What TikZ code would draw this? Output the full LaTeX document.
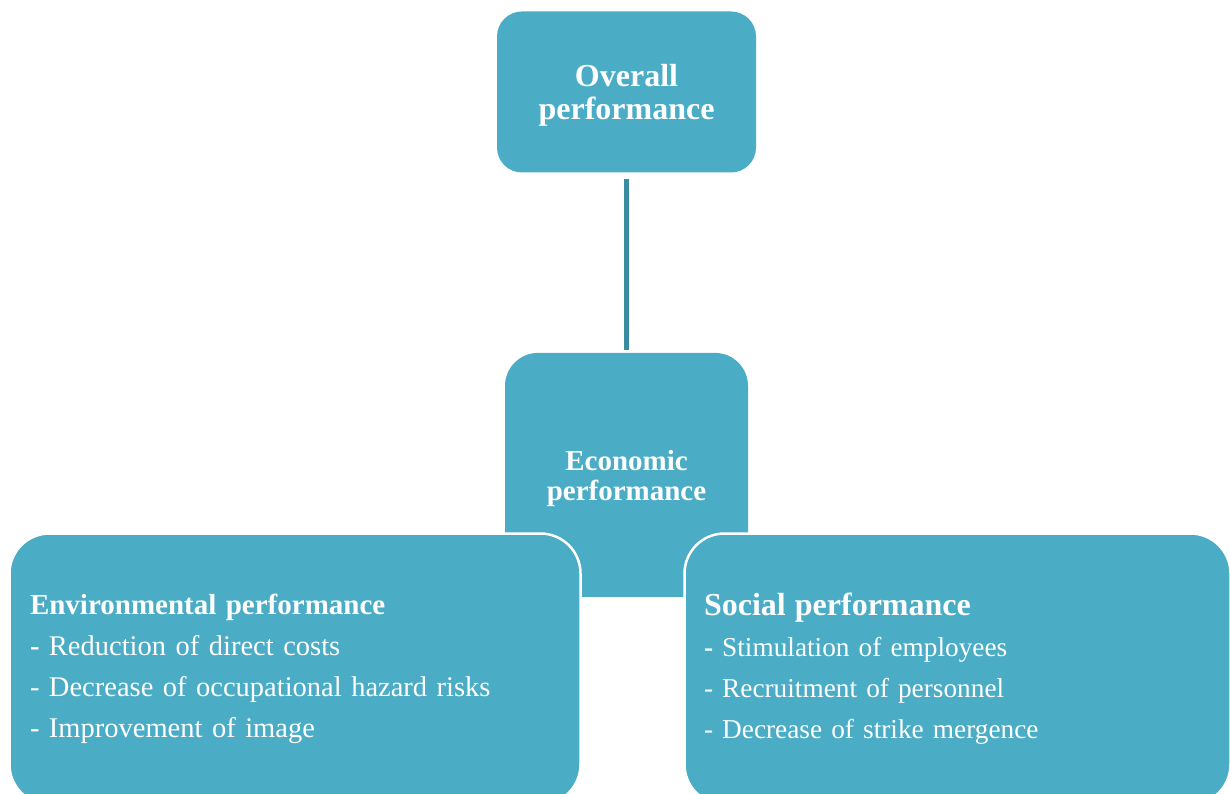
\documentclass[tikz,border=0pt]{standalone}
\usepackage{fontspec}
\setmainfont{Liberation Serif}
\usetikzlibrary{positioning}
\definecolor{boxblue}{HTML}{4BACC6}
\definecolor{linkblue}{HTML}{3A8CA3}

\begin{document}
\begin{tikzpicture}[x=1pt,y=-1pt,
    head node/.style={fill=boxblue,text=white,align=center,font=\bfseries\fontsize{32}{33}\selectfont,minimum width=259pt,minimum height=161pt,rounded corners=25pt},
    mid node/.style={fill=boxblue,text=white,align=center,font=\bfseries\fontsize{29}{30}\selectfont,minimum width=243pt,minimum height=244pt,rounded corners=33pt},
    side node/.style={fill=boxblue,draw=white,line width=2.5pt,text=white,align=left,minimum height=271pt,rounded corners=40pt,inner ysep=0pt},
    link/.style={draw=linkblue,line width=5pt,shorten <=6pt,shorten >=3pt}
    ]
  \useasboundingbox (0,0) rectangle (1230,794);

  \node[head node] (overall) at (626.5,92) {\rule{0pt}{29pt}Overall\\performance};
  \node[mid node]  (econ) [below=180pt of overall] {\rule{0pt}{27pt}Economic\\performance};
  \path[link] (overall) -- (econ);

  \node[side node,inner xsep=20.5pt,text width=530pt,font=\fontsize{28.5}{41}\selectfont] (env) at (295,669)
    {{\fontsize{29}{41}\selectfont\bfseries Environmental performance}\\\textbf{-} Reduction of direct costs\\- Decrease of occupational hazard risks\\- Improvement of image};
  \node[side node,inner xsep=19.5pt,text width=507pt,font=\fontsize{27.3}{41}\selectfont] (social) at (957.5,669)
    {{\fontsize{32}{41}\selectfont\bfseries Social performance}\\\textbf{-} Stimulation of employees\\- Recruitment of personnel\\- Decrease of strike mergence};

\end{tikzpicture}
\end{document}
